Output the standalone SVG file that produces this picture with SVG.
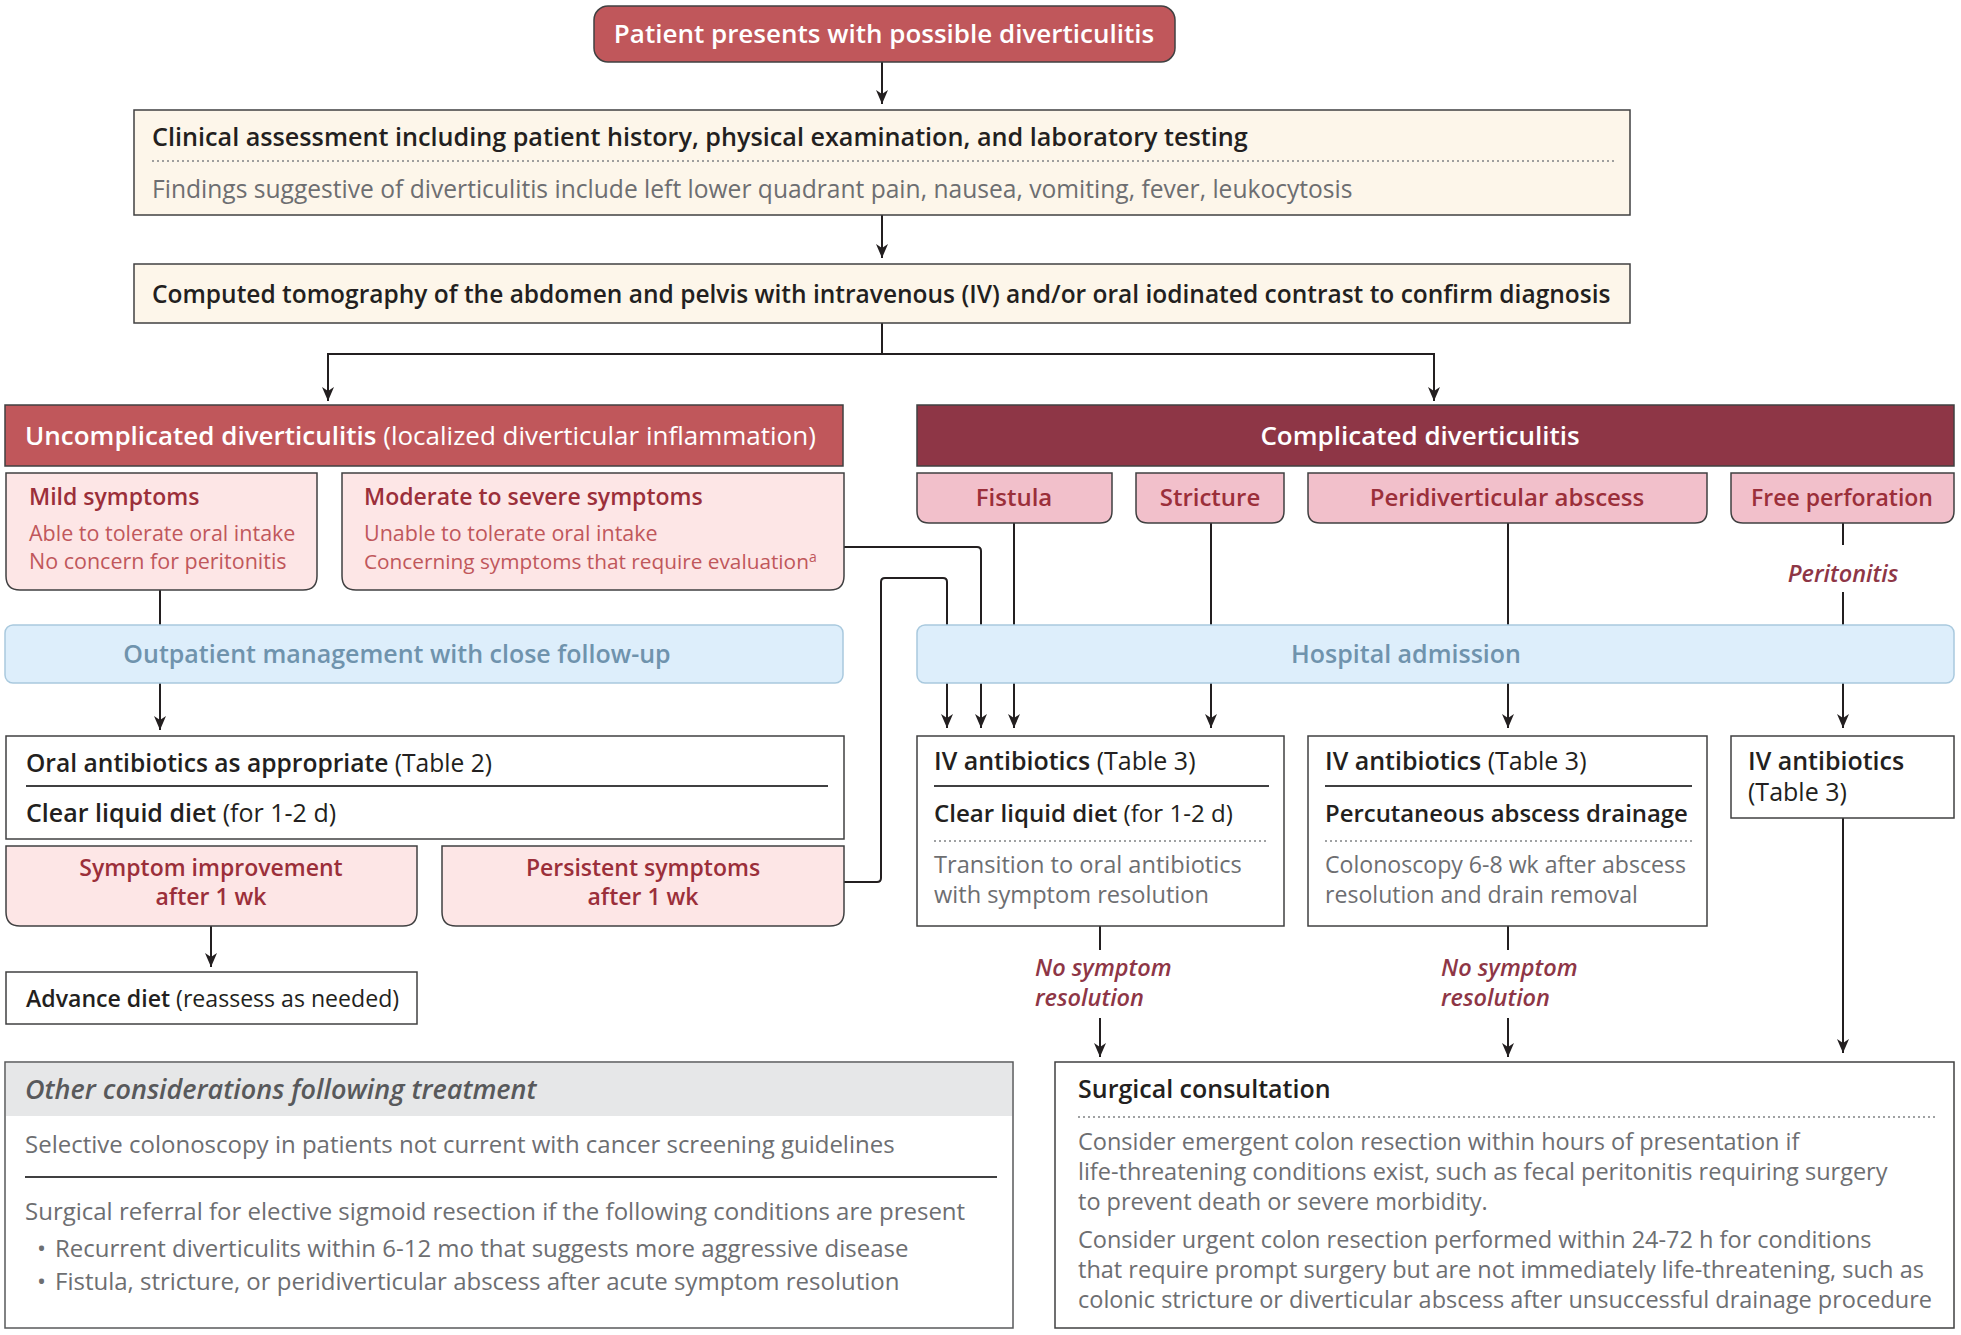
<svg xmlns="http://www.w3.org/2000/svg" width="1961" height="1335" viewBox="0 0 1961 1335">
<defs>
<marker id="ah" viewBox="0 0 14 12" refX="14" refY="6" markerWidth="14" markerHeight="12" markerUnits="userSpaceOnUse" orient="auto"><path d="M0,0 L14,6 L0,12 L4,6 Z" fill="#231f20"/></marker>
<style>
text{font-family:"Open Sans","Noto Sans","Liberation Sans",sans-serif}
.bx{stroke:#404041;stroke-width:1.5}
.cn{fill:none;stroke:#231f20;stroke-width:2}
.hw{fill:#fff;font-weight:600;font-size:26px}
.tb{fill:#231f20;font-weight:600;font-size:25px}
.n{font-weight:400}
.gr{fill:#6d6e71;font-size:24px}
.dr{fill:#9b2f3a;font-weight:600;font-size:23px}
.tab{font-size:24px}
.lr{fill:#c0575b;font-size:21.5px}
.bl{fill:#6f93ad;font-weight:600;font-size:25px}
.it{fill:#8e3646;font-style:italic;font-weight:600;font-size:23.5px}
.dot{stroke:#808285;stroke-width:1.5;stroke-dasharray:2 3}
.sol{stroke:#404041;stroke-width:2}
</style>
</defs>
<rect width="1961" height="1335" fill="#fff"/>

<g id="connectors">
<path class="cn" d="M882,62 V104" marker-end="url(#ah)"/>
<path class="cn" d="M882,215 V258" marker-end="url(#ah)"/>
<path class="cn" d="M882,323 V354 H328 V401" marker-end="url(#ah)"/>
<path class="cn" d="M882,354 H1434 V401" marker-end="url(#ah)"/>
<path class="cn" d="M160,590 V625"/>
<path class="cn" d="M160,683 V730" marker-end="url(#ah)"/>
<path class="cn" d="M211,926 V967" marker-end="url(#ah)"/>
<path class="cn" d="M844,547 H977 Q981,547 981,551 V625"/>
<path class="cn" d="M844,882 H877 Q881,882 881,878 V582 Q881,578 885,578 H943 Q947,578 947,582 V625"/>
<path class="cn" d="M1014,523 V625"/>
<path class="cn" d="M1211,523 V625"/>
<path class="cn" d="M1508,523 V625"/>
<path class="cn" d="M1843,523 V545"/>
<path class="cn" d="M1843,592 V625"/>
<path class="cn" d="M947,683 V728" marker-end="url(#ah)"/>
<path class="cn" d="M981,683 V728" marker-end="url(#ah)"/>
<path class="cn" d="M1014,683 V728" marker-end="url(#ah)"/>
<path class="cn" d="M1211,683 V728" marker-end="url(#ah)"/>
<path class="cn" d="M1508,683 V728" marker-end="url(#ah)"/>
<path class="cn" d="M1843,683 V728" marker-end="url(#ah)"/>
<path class="cn" d="M1100,926 V950"/>
<path class="cn" d="M1100,1018 V1057" marker-end="url(#ah)"/>
<path class="cn" d="M1508,926 V950"/>
<path class="cn" d="M1508,1018 V1057" marker-end="url(#ah)"/>
<path class="cn" d="M1843,818 V1053" marker-end="url(#ah)"/>
<text class="it" x="1843" y="582" text-anchor="middle">Peritonitis</text>
<text class="it"><tspan x="1035" y="976">No symptom</tspan><tspan x="1035" y="1006">resolution</tspan></text>
<text class="it"><tspan x="1441" y="976">No symptom</tspan><tspan x="1441" y="1006">resolution</tspan></text>
</g>

<g id="start">
<rect class="bx" x="594" y="6" width="581" height="56" rx="14" fill="#c0575b" stroke="#6b2a30"/>
<text class="hw" x="884" y="43" text-anchor="middle">Patient presents with possible diverticulitis</text>
</g>

<g id="clinical">
<rect class="bx" x="134" y="110" width="1496" height="105" fill="#fdf6ea"/>
<text class="tb" x="152" y="146" style="font-size:25.2px">Clinical assessment including patient history, physical examination, and laboratory testing</text>
<line class="dot" x1="152" y1="161" x2="1615" y2="161"/>
<text class="gr" x="152" y="198" style="font-size:24.6px">Findings suggestive of diverticulitis include left lower quadrant pain, nausea, vomiting, fever, leukocytosis</text>
</g>

<g id="ct">
<rect class="bx" x="134" y="264" width="1496" height="59" fill="#fdf6ea"/>
<text class="tb" x="152" y="303" style="font-size:24.5px">Computed tomography of the abdomen and pelvis with intravenous (IV) and/or oral iodinated contrast to confirm diagnosis</text>
</g>

<g id="uncomplicated">
<rect class="bx" x="5" y="405" width="838" height="61" fill="#c0575b" stroke="#6b2a30"/>
<text class="hw" x="25" y="445">Uncomplicated diverticulitis<tspan class="n"> (localized diverticular inflammation)</tspan></text>
</g>

<g id="complicated">
<rect class="bx" x="917" y="405" width="1037" height="61" fill="#8e3646" stroke="#4a1c24"/>
<text class="hw" x="1420" y="445" text-anchor="middle">Complicated diverticulitis</text>
</g>

<g id="mild">
<path class="bx" d="M6,473 H317 V576 Q317,590 303,590 H20 Q6,590 6,576 Z" fill="#fde6e6"/>
<text class="dr" x="29" y="505">Mild symptoms</text>
<text class="lr"><tspan x="29" y="541">Able to tolerate oral intake</tspan><tspan x="29" y="569">No concern for peritonitis</tspan></text>
</g>

<g id="moderate">
<path class="bx" d="M342,473 H844 V576 Q844,590 830,590 H356 Q342,590 342,576 Z" fill="#fde6e6"/>
<text class="dr" x="364" y="505">Moderate to severe symptoms</text>
<text class="lr"><tspan x="364" y="541">Unable to tolerate oral intake</tspan><tspan x="364" y="569" style="font-size:20.8px">Concerning symptoms that require evaluation</tspan><tspan style="font-size:14px" dy="-7">a</tspan></text>
</g>

<g id="fistula">
<path class="bx" d="M917,473 H1112 V511 Q1112,523 1100,523 H929 Q917,523 917,511 Z" fill="#f2c0cb"/>
<text class="dr tab" x="1014" y="506" text-anchor="middle">Fistula</text>
</g>
<g id="stricture">
<path class="bx" d="M1136,473 H1284 V511 Q1284,523 1272,523 H1148 Q1136,523 1136,511 Z" fill="#f2c0cb"/>
<text class="dr tab" x="1210" y="506" text-anchor="middle">Stricture</text>
</g>
<g id="abscess">
<path class="bx" d="M1308,473 H1707 V511 Q1707,523 1695,523 H1320 Q1308,523 1308,511 Z" fill="#f2c0cb"/>
<text class="dr tab" x="1507" y="506" text-anchor="middle">Peridiverticular abscess</text>
</g>
<g id="perforation">
<path class="bx" d="M1731,473 H1954 V511 Q1954,523 1942,523 H1743 Q1731,523 1731,511 Z" fill="#f2c0cb"/>
<text class="dr" x="1842" y="506" text-anchor="middle">Free perforation</text>
</g>

<g id="outpatient">
<rect x="5" y="625" width="838" height="58" rx="8" fill="#ddeefb" stroke="#a9c9de" stroke-width="1.5"/>
<text class="bl" x="397" y="663" text-anchor="middle">Outpatient management with close follow-up</text>
</g>

<g id="hospital">
<rect x="917" y="625" width="1037" height="58" rx="8" fill="#ddeefb" stroke="#a9c9de" stroke-width="1.5"/>
<text class="bl" x="1406" y="663" text-anchor="middle">Hospital admission</text>
</g>

<g id="oral">
<rect class="bx" x="6" y="736" width="838" height="103" fill="#fff"/>
<text class="tb" x="26" y="772" style="font-size:24.6px">Oral antibiotics as appropriate<tspan class="n"> (Table 2)</tspan></text>
<line class="sol" x1="26" y1="786" x2="828" y2="786"/>
<text class="tb" x="26" y="822">Clear liquid diet<tspan class="n"> (for 1-2 d)</tspan></text>
</g>

<g id="improvement">
<path class="bx" d="M6,846 H417 V912 Q417,926 403,926 H20 Q6,926 6,912 Z" fill="#fde6e6"/>
<text class="dr" text-anchor="middle"><tspan x="211" y="876">Symptom improvement</tspan><tspan x="211" y="905">after 1 wk</tspan></text>
</g>

<g id="persistent">
<path class="bx" d="M442,846 H844 V912 Q844,926 830,926 H456 Q442,926 442,912 Z" fill="#fde6e6"/>
<text class="dr" text-anchor="middle"><tspan x="643" y="876">Persistent symptoms</tspan><tspan x="643" y="905">after 1 wk</tspan></text>
</g>

<g id="advance">
<rect class="bx" x="6" y="972" width="411" height="52" fill="#fff"/>
<text class="tb" x="26" y="1007" style="font-size:23.1px">Advance diet<tspan class="n"> (reassess as needed)</tspan></text>
</g>

<g id="iv1">
<rect class="bx" x="917" y="736" width="367" height="190" fill="#fff"/>
<text class="tb" x="934" y="770">IV antibiotics<tspan class="n"> (Table 3)</tspan></text>
<line class="sol" x1="934" y1="786" x2="1269" y2="786"/>
<text class="tb" x="934" y="822" style="font-size:24.1px">Clear liquid diet<tspan class="n"> (for 1-2 d)</tspan></text>
<line class="dot" x1="934" y1="841" x2="1269" y2="841"/>
<text class="gr" style="font-size:23.6px"><tspan x="934" y="873">Transition to oral antibiotics</tspan><tspan x="934" y="903">with symptom resolution</tspan></text>
</g>

<g id="iv2">
<rect class="bx" x="1308" y="736" width="399" height="190" fill="#fff"/>
<text class="tb" x="1325" y="770">IV antibiotics<tspan class="n"> (Table 3)</tspan></text>
<line class="sol" x1="1325" y1="786" x2="1692" y2="786"/>
<text class="tb" x="1325" y="822" style="font-size:23.9px">Percutaneous abscess drainage</text>
<line class="dot" x1="1325" y1="841" x2="1692" y2="841"/>
<text class="gr" style="font-size:23.1px"><tspan x="1325" y="873">Colonoscopy 6-8 wk after abscess</tspan><tspan x="1325" y="903">resolution and drain removal</tspan></text>
</g>

<g id="iv3">
<rect class="bx" x="1731" y="736" width="223" height="82" fill="#fff"/>
<text class="tb"><tspan x="1748" y="770">IV antibiotics</tspan><tspan class="n" x="1748" y="801">(Table 3)</tspan></text>
</g>

<g id="other">
<rect x="5" y="1062" width="1008" height="266" fill="#fff" stroke="#58595b" stroke-width="1.5"/>
<rect x="6" y="1063" width="1006" height="53" fill="#e6e7e8"/>
<text x="25" y="1099" font-style="italic" font-weight="600" fill="#58595b" font-size="27px">Other considerations following treatment</text>
<text class="gr" x="25" y="1153">Selective colonoscopy in patients not current with cancer screening guidelines</text>
<line class="sol" x1="25" y1="1177" x2="997" y2="1177"/>
<text class="gr"><tspan x="25" y="1220">Surgical referral for elective sigmoid resection if the following conditions are present</tspan><tspan x="37" y="1257">•</tspan><tspan x="55" y="1257">Recurrent diverticulits within 6-12 mo that suggests more aggressive disease</tspan><tspan x="37" y="1290">•</tspan><tspan x="55" y="1290">Fistula, stricture, or peridiverticular abscess after acute symptom resolution</tspan></text>
</g>

<g id="surgical">
<rect class="bx" x="1055" y="1062" width="899" height="266" fill="#fff"/>
<text class="tb" x="1078" y="1098">Surgical consultation</text>
<line class="dot" x1="1078" y1="1117" x2="1938" y2="1117"/>
<text class="gr" style="font-size:23.5px"><tspan x="1078" y="1150">Consider emergent colon resection within hours of presentation if</tspan><tspan x="1078" y="1180">life-threatening conditions exist, such as fecal peritonitis requiring surgery</tspan><tspan x="1078" y="1210">to prevent death or severe morbidity.</tspan></text>
<text class="gr" style="font-size:23.5px"><tspan x="1078" y="1248">Consider urgent colon resection performed within 24-72 h for conditions</tspan><tspan x="1078" y="1278">that require prompt surgery but are not immediately life-threatening, such as</tspan><tspan x="1078" y="1308">colonic stricture or diverticular abscess after unsuccessful drainage procedure</tspan></text>
</g>
</svg>
